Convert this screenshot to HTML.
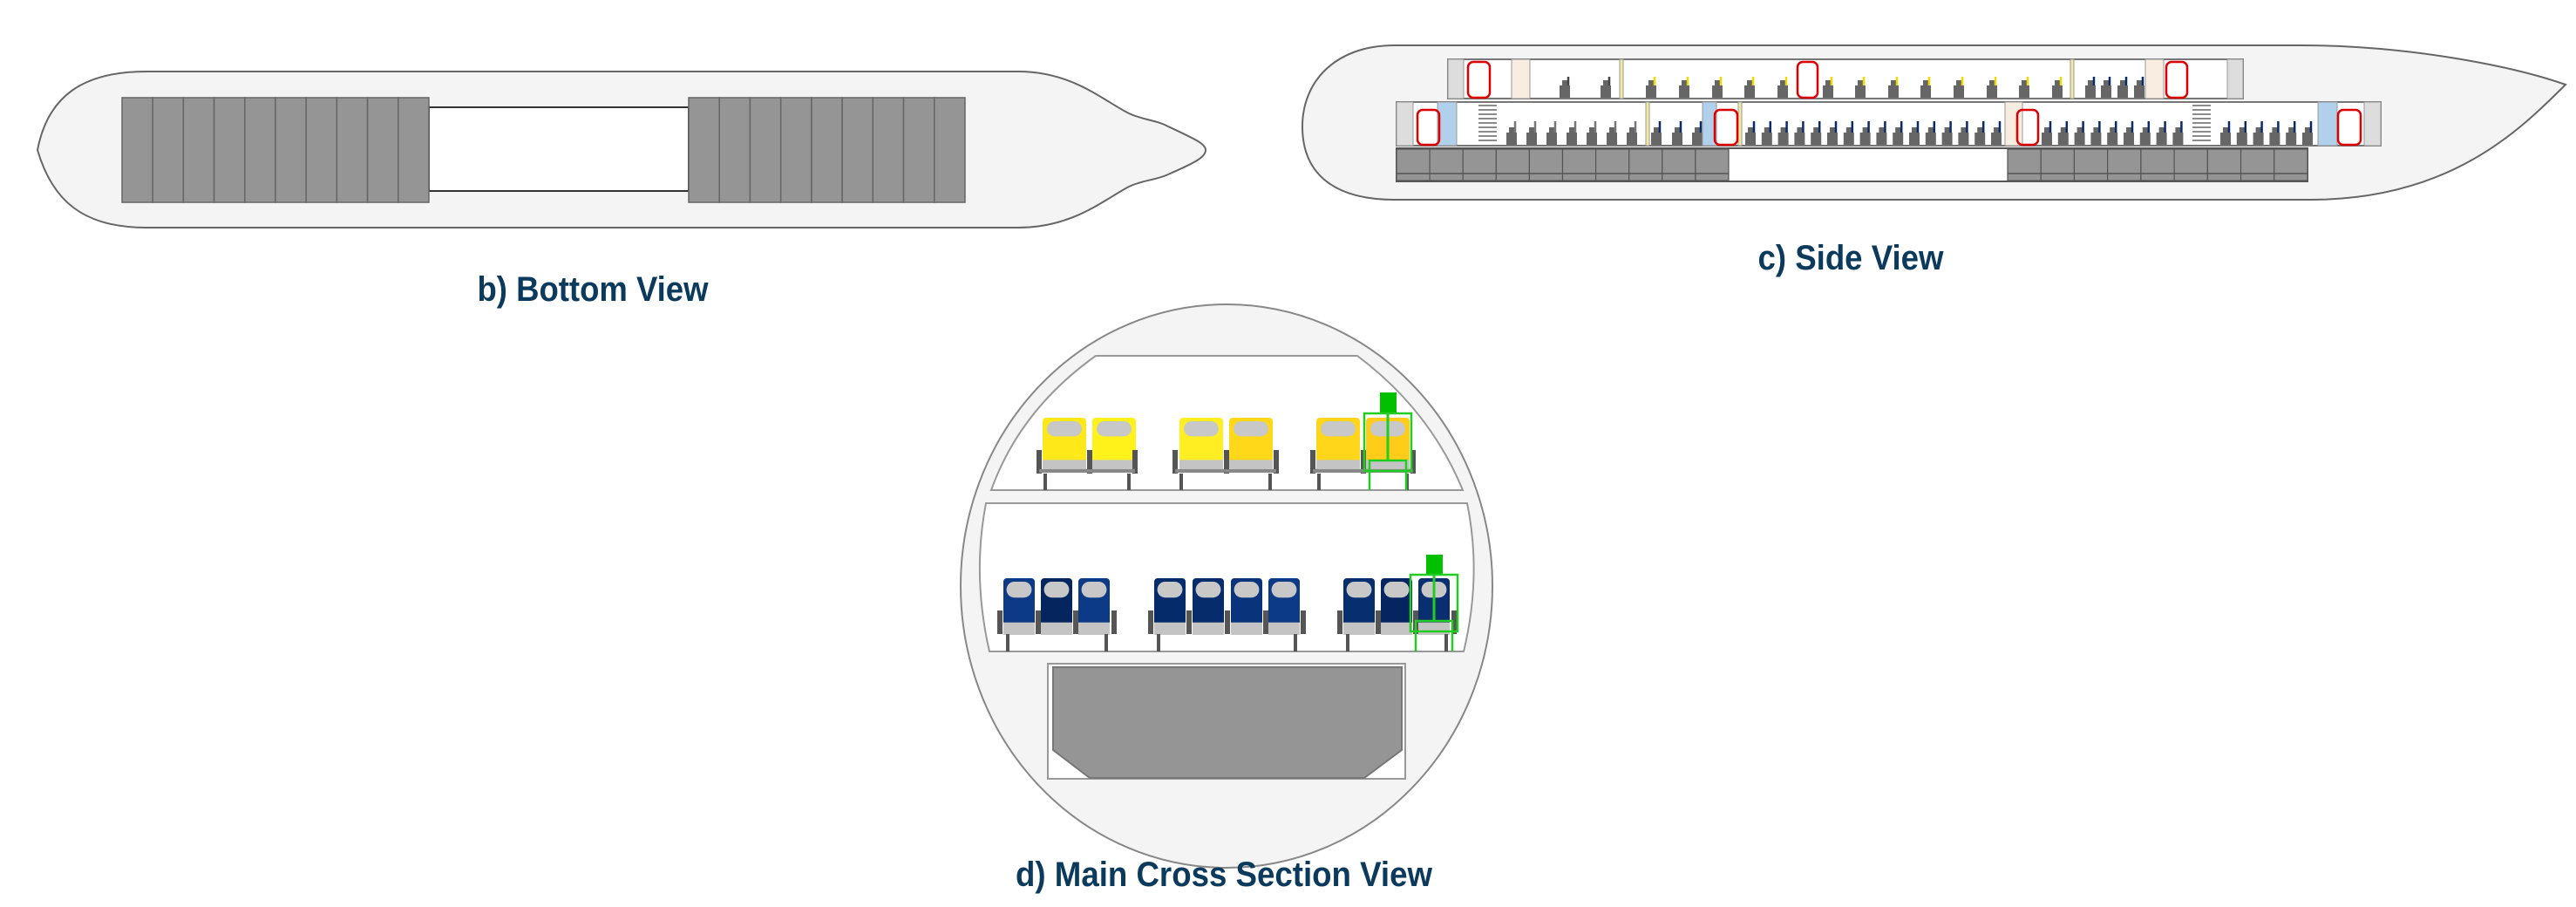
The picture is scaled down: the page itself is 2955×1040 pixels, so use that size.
<!DOCTYPE html>
<html><head><meta charset="utf-8"><style>
html,body{margin:0;padding:0;background:#fff;}
svg{display:block;}
text{font-family:"Liberation Sans Narrow","Liberation Sans",sans-serif;font-weight:bold;fill:#0b3a5c;font-size:40px;}
</style></head><body>
<svg id="s" width="2955" height="1040" viewBox="0 0 2955 1040" xmlns="http://www.w3.org/2000/svg">
<!-- Bottom view -->
<path d="M168,82 L1168,82 C1230,82 1265,115 1295,130 C1312,138 1325,137 1340,145 C1372,160 1383,165 1383,172 C1383,180 1372,186 1340,200 C1325,207 1312,206 1295,214 C1265,230 1230,261 1168,261 L168,261 C95,261 60,230 43,172 C55,110 95,82 168,82 Z" fill="#f4f4f4" stroke="#666" stroke-width="2"/>
<rect x="492" y="123" width="298" height="96" fill="#fff" stroke="#333" stroke-width="2"/>
<g id="bl"></g>
<!-- Side view -->
<path d="M1600,52 L2640,52 C2760,52 2880,75 2943,97 C2890,150 2810,229 2650,229 L1600,229 C1525,229 1494,195 1494,145 C1494,95 1530,52 1600,52 Z" fill="#f4f4f4" stroke="#666" stroke-width="2"/>
<rect x="1661" y="68" width="912" height="45" fill="#fff" stroke="#777" stroke-width="2"/>
<rect x="1602" y="117" width="1129" height="50" fill="#fff" stroke="#777" stroke-width="2"/>
<rect x="1602" y="170" width="1045" height="38" fill="#fff" stroke="#555" stroke-width="2"/>
<g id="side"></g>
<!-- Cross section -->
<ellipse cx="1407" cy="672" rx="305" ry="323" fill="#f4f4f4" stroke="#888" stroke-width="2"/>
<path d="M1257,408 L1557,408 Q1640,470 1678,562 L1137,562 Q1170,470 1257,408 Z" fill="#fff" stroke="#999" stroke-width="2"/>
<path d="M1131,577 L1683,577 Q1700,660 1679,747 L1135,747 Q1115,660 1131,577 Z" fill="#fff" stroke="#999" stroke-width="2"/>
<rect x="1202" y="761" width="410" height="132" fill="#fff" stroke="#999" stroke-width="2"/>
<path d="M1208,765 L1608,765 L1608,860 L1565,892 L1250,892 L1208,860 Z" fill="#959595" stroke="#777" stroke-width="2"/>
<g id="cs"></g>
<text x="680" y="345" text-anchor="middle" textLength="265" lengthAdjust="spacingAndGlyphs">b) Bottom View</text>
<text x="2123" y="309" text-anchor="middle" textLength="213" lengthAdjust="spacingAndGlyphs">c) Side View</text>
<text x="1404" y="1016" text-anchor="middle" textLength="478" lengthAdjust="spacingAndGlyphs">d) Main Cross Section View</text>
</svg>
<script>
const NS="http://www.w3.org/2000/svg";
function el(p,t,a){const e=document.createElementNS(NS,t);for(const k in a)e.setAttribute(k,a[k]);p.appendChild(e);return e;}
const bl=document.getElementById('bl');
for(let i=0;i<10;i++){const w=352/10;el(bl,'rect',{x:140+i*w,y:112,width:w,height:120,fill:'#959595',stroke:'#666','stroke-width':1.5});}
for(let i=0;i<9;i++){const w=317/9;el(bl,'rect',{x:790+i*w,y:112,width:w,height:120,fill:'#959595',stroke:'#666','stroke-width':1.5});}
const s=document.getElementById('side');
// cargo
for(let i=0;i<10;i++){const w=381/10;el(s,'rect',{x:1602+i*w,y:171,width:w,height:36,fill:'#959595',stroke:'#555','stroke-width':1.2});}
for(let i=0;i<9;i++){const w=344/9;el(s,'rect',{x:2303+i*w,y:171,width:w,height:36,fill:'#959595',stroke:'#555','stroke-width':1.2});}
el(s,'line',{x1:1602,y1:199,x2:1983,y2:199,stroke:'#555','stroke-width':1.5});
el(s,'line',{x1:2303,y1:199,x2:2647,y2:199,stroke:'#555','stroke-width':1.5});
function blk(x,y,w,h,f){el(s,'rect',{x:x,y:y,width:w,height:h,fill:f,stroke:'#999','stroke-width':1});}
function door(x,y,w,h){el(s,'rect',{x:x,y:y,width:w,height:h,rx:6,fill:'none',stroke:'#d00','stroke-width':2.5});}
function seat(x,base,top,c){el(s,'rect',{x:x-6,y:base-14,width:12,height:14,fill:'#666'});el(s,'rect',{x:x-3,y:base-20,width:6,height:6,fill:'#666'});el(s,'line',{x1:x+4,y1:base-14,x2:x+4,y2:top,stroke:c,'stroke-width':2.5});}
// upper deck
blk(1661,68,18,45,'#ddd');blk(1734,68,21,45,'#f9ece0');door(1684,71,25,41);
blk(2461,68,21,45,'#f9ece0');door(2485,71,24,41);blk(2555,68,18,45,'#ddd');
blk(1858,68,4,45,'#f4e9a0');blk(2375,68,4,45,'#f4e9a0');
[1795,1842].forEach(x=>seat(x,112,88,'#444'));
[1894,1932,1970,2007,2045,2097,2134,2172,2209,2247,2285,2322,2360].forEach(x=>seat(x,112,88,'#f0d800'));
[2398,2416,2435,2454].forEach(x=>seat(x,112,88,'#0a2a6a'));
door(2062,71,23,41);
// main deck
blk(1602,117,19,50,'#ddd');blk(1649,117,22,50,'#b0d0ec');door(1626,126,25,40);
for(let i=0;i<9;i++)el(s,'line',{x1:1696,y1:121+i*5,x2:1717,y2:121+i*5,stroke:'#666','stroke-width':1.5});
for(let i=0;i<7;i++)seat(1734+i*23,166,139,'#777');
blk(1888,117,4,50,'#f4e9a0');
[1900,1924,1947].forEach(x=>seat(x,166,139,'#0a2a6a'));
blk(1953,117,16,50,'#b0d0ec');blk(1994,117,4,50,'#f4e9a0');door(1967,126,26,40);
for(let i=0;i<16;i++)seat(2008+i*18.8,166,139,'#0a2a6a');
blk(2300,117,20,50,'#f9ece0');door(2314,126,24,40);
for(let i=0;i<9;i++)seat(2348+i*18.8,166,139,'#0a2a6a');
for(let i=0;i<9;i++)el(s,'line',{x1:2515,y1:121+i*5,x2:2536,y2:121+i*5,stroke:'#666','stroke-width':1.5});
for(let i=0;i<6;i++)seat(2553+i*18.8,166,139,'#0a2a6a');
blk(2659,117,22,50,'#b0d0ec');door(2682,126,26,40);blk(2712,117,19,50,'#ddd');
// cross section seats
const c=document.getElementById('cs');
function csSeat(x,y,w,h,floor,col){
 el(c,'rect',{x:x,y:y,width:w,height:h,rx:4,fill:col});
 el(c,'rect',{x:x+w*0.1,y:y+4,width:w*0.8,height:h*0.28,rx:9,fill:'#c8c8c8'});
 el(c,'rect',{x:x,y:y+h*0.78,width:w,height:h*0.22,fill:'#c4c4c4'});
}
function arm(x,y1,y2){el(c,'rect',{x:x-3,y:y1,width:6,height:y2-y1,fill:'#555'});}
function leg(x,y1,y2){el(c,'rect',{x:x-2,y:y1,width:4,height:y2-y1,fill:'#555'});}
// upper
[[1196,'#ffe81a'],[1253,'#fff21a'],[1353,'#ffee22'],[1410,'#ffd81a'],[1510,'#ffd61a'],[1567,'#ffcc1a']].forEach(([x,col])=>csSeat(x,479,50,62,562,col));
[[1192,1250,1302],[1348,1407,1464],[1506,1564,1621]].forEach(g=>{g.forEach(x=>arm(x,516,543));leg(g[0]+7,543,562);leg(g[2]-7,543,562);el(c,'rect',{x:g[0],y:538,width:g[2]-g[0],height:4,fill:'#888'});});
// main
const blues=['#0c3a86','#04255e','#0c3a86','#062b6a','#072c6c','#09337a','#0c3a86','#072e6f','#042560','#0a2f70'];
[1151,1194,1237,1324,1368,1412,1455,1541,1584,1627].forEach((x,i)=>csSeat(x,663,36,65,747,blues[i]));
[[1147,1191,1234,1278],[1320,1364,1408,1452,1495],[1537,1581,1624,1668]].forEach(g=>{g.forEach(x=>arm(x,700,727));leg(g[0]+9,727,747);leg(g[g.length-1]-9,727,747);});
// green figures
function fig(cx,headY,shY,hipY,w,hw,legY){
 el(c,'rect',{x:cx-9,y:headY,width:19,height:shY-headY,fill:'#00c000'});
 el(c,'rect',{x:cx-w/2,y:shY,width:w,height:(hipY-shY)+12,fill:'none',stroke:'#22cc22','stroke-width':2.5});
 el(c,'line',{x1:cx,y1:shY,x2:cx,y2:hipY,stroke:'#22cc22','stroke-width':3});
 el(c,'path',{d:`M${cx-hw},${legY} L${cx-hw},${hipY} L${cx+hw},${hipY} L${cx+hw},${legY}`,fill:'none',stroke:'#22cc22','stroke-width':2.5});
}
fig(1592,450,474,528,54,21,562);
fig(1645,636,659,712,54,21,747);
</script>
</body></html>
